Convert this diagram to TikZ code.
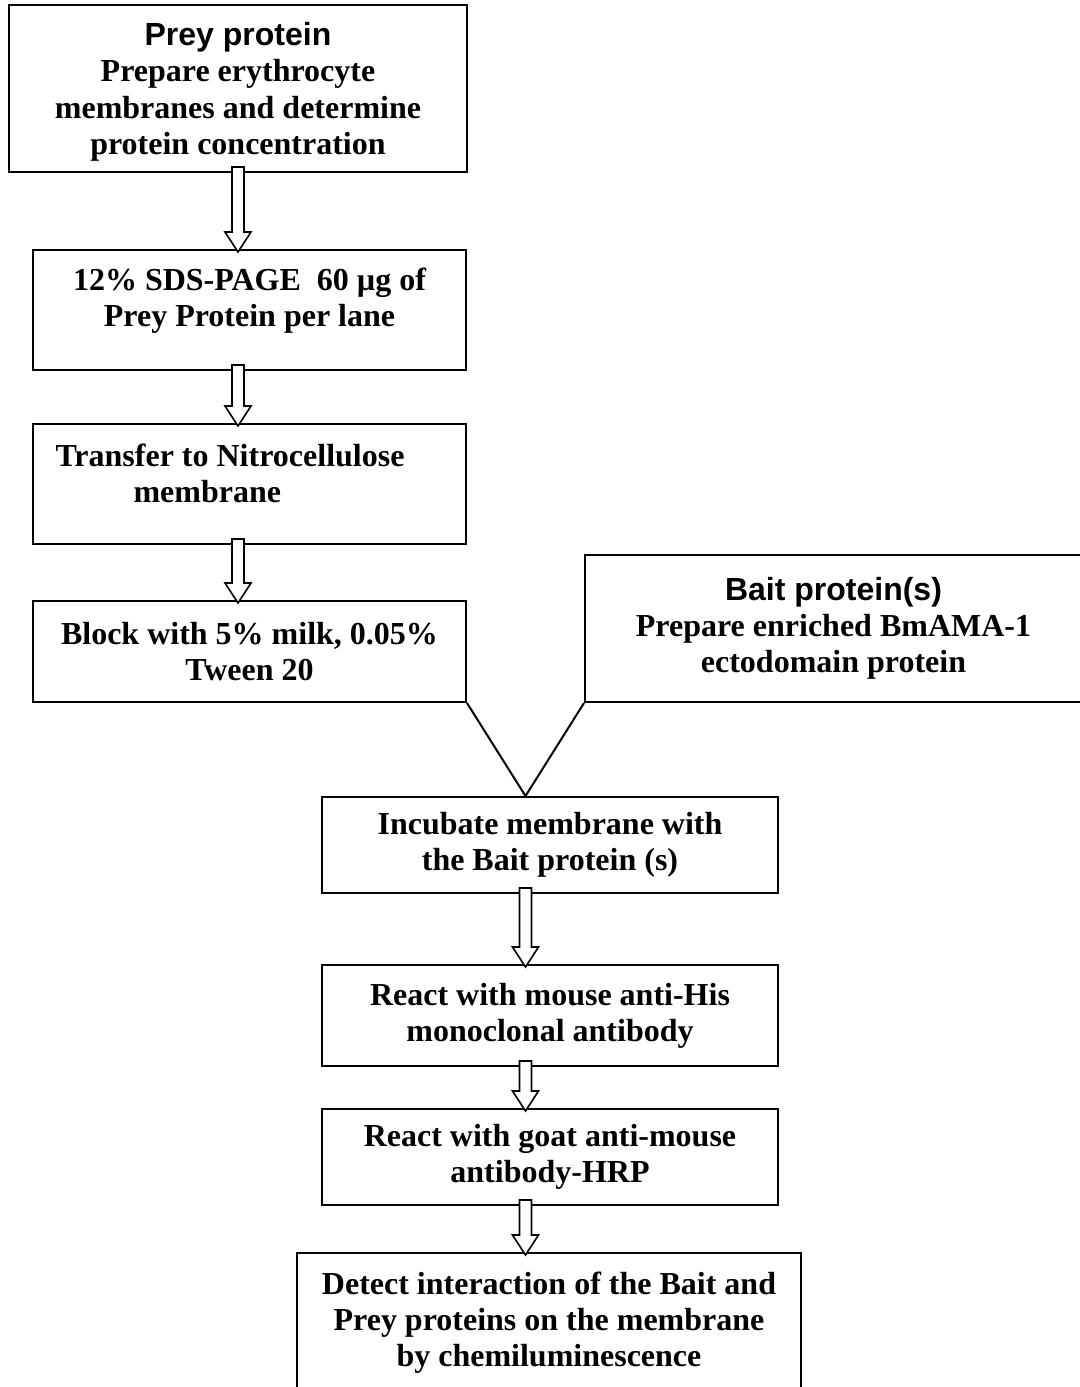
\documentclass[tikz,border=0pt]{standalone}
\usepackage{fontspec}
\setmainfont{Liberation Serif}
\newfontfamily\headfont{Liberation Sans}
\usetikzlibrary{calc}
% hollow block arrow: column, from node, to node
\newcommand{\flowarrow}[3]{%
  \draw[hollow] let \p0=(#1), \p1=(#2.south), \p2=(#3.north) in
    (\x0-3pt,\y1+3pt) -- (\x0+3pt,\y1+3pt) -- (\x0+3pt,\y2+8.5pt) -- (\x0+6.5pt,\y2+8.5pt)
    -- (\x0,\y2-1.5pt) -- (\x0-6.5pt,\y2+8.5pt) -- (\x0-3pt,\y2+8.5pt) -- cycle;}
\begin{document}
\begin{tikzpicture}[x=0.5pt,y=-0.5pt,
    box/.style={draw,line width=1pt,inner sep=0pt,align=center,
      font=\bfseries\fontsize{16}{18}\selectfont},
    hollow/.style={draw,fill=white,line width=0.8pt,line join=miter}]
  \useasboundingbox (0,0) rectangle (1080,1387);
  \clip (0,0) rectangle (1080,1387);
  % prey side
  \node[box,minimum width=229pt,minimum height=83.5pt,text depth=-0.5pt,
    font=\bfseries\fontsize{16}{18.3}\selectfont] (prey) at (238,88.5)
    {{\headfont Prey protein}\\Prepare erythrocyte\\membranes and determine\\protein concentration};
  \node[box,minimum width=216.5pt,minimum height=60pt,text depth=12.5pt] (gel) at (249.5,310)
    {12\% SDS-PAGE\ \ 60 µg of\\Prey Protein per lane};
  \node[box,minimum width=216.5pt,minimum height=60pt,text depth=11pt,align=left] (transfer) at (249.5,484)
    {Transfer to Nitrocellulose\hspace*{19.5pt}\\\hspace*{39pt}membrane};
  \node[box,minimum width=216.5pt,minimum height=50.5pt] (block) at (249.5,651.5)
    {Block with 5\% milk, 0.05\%\\Tween 20};
  % bait side
  \node[box,minimum width=248.5pt,minimum height=73.5pt] (bait) at (833.5,628.5)
    {{\headfont Bait protein(s)}\\Prepare enriched BmAMA-1\\ectodomain protein};
  % joint steps
  \node[box,minimum width=228pt,minimum height=48pt] (incubate) at (550,845)
    {Incubate membrane with\\the Bait protein (s)};
  \node[box,minimum width=228pt,minimum height=50.5pt] (antihis) at (550,1015.5)
    {React with mouse anti-His\\monoclonal antibody};
  \node[box,minimum width=228pt,minimum height=48pt] (hrp) at (550,1157)
    {React with goat anti-mouse\\antibody-HRP};
  \node[box,minimum width=252pt,minimum height=73.5pt,text depth=7pt] (detect) at (549,1326.5)
    {Detect interaction of the Bait and\\Prey proteins on the membrane\\by chemiluminescence};
  \coordinate (mid) at ($(block.south east)!0.5!(bait.south west)$);
  \coordinate (apex) at (mid |- incubate.north);
  \draw[line width=1pt,line join=miter] (block.south east) -- (apex) -- (bait.south west);
  \flowarrow{prey.south}{prey}{gel}
  \flowarrow{prey.south}{gel}{transfer}
  \flowarrow{prey.south}{transfer}{block}
  \flowarrow{apex}{incubate}{antihis}
  \flowarrow{apex}{antihis}{hrp}
  \flowarrow{apex}{hrp}{detect}
\end{tikzpicture}
\end{document}
